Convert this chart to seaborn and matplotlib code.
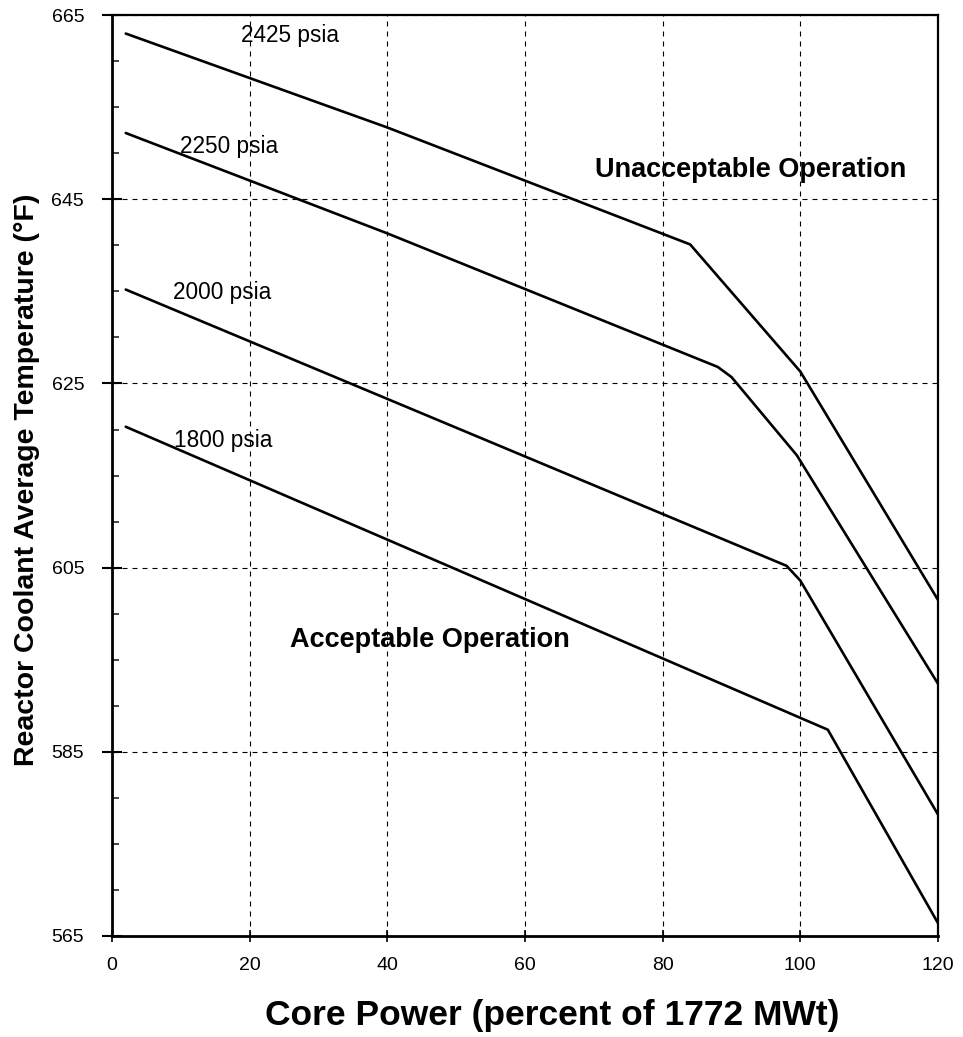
import numpy as np
import pandas as pd
import matplotlib
matplotlib.use("Agg")
import matplotlib.pyplot as plt
import seaborn as sns
from matplotlib.ticker import MultipleLocator

# Core power (%) and average coolant temperature (F) for each pressure curve
power_2425 = [2, 40, 84, 100, 120]
temp_2425 = [663.0, 652.8, 640.1, 626.3, 601.5]

power_2250 = [2, 40, 88, 90, 99.5, 120]
temp_2250 = [652.2, 641.3, 626.8, 625.7, 617.2, 592.4]

power_2000 = [2, 98, 100, 120]
temp_2000 = [635.2, 605.2, 603.6, 578.2]

power_1800 = [2, 104, 120]
temp_1800 = [620.3, 587.4, 566.4]

curve_names = ["2425 psia", "2250 psia", "2000 psia", "1800 psia"]
x_ticks = [0, 20, 40, 60, 80, 100, 120]
y_ticks = [565, 585, 605, 625, 645, 665]


def build_frame():
    rows = []
    for name, xs, ys in zip(curve_names,
                            [power_2425, power_2250, power_2000, power_1800],
                            [temp_2425, temp_2250, temp_2000, temp_1800]):
        for x, y in zip(xs, ys):
            rows.append({"power": x, "temp": y, "curve": name})
    return pd.DataFrame(rows)


def main():
    sns.set_theme(style="white")
    plt.rcParams["font.family"] = ["Liberation Sans", "DejaVu Sans"]
    plt.rcParams["text.color"] = "black"
    plt.rcParams["axes.labelcolor"] = "black"

    df = build_frame()

    fig = plt.figure(figsize=(9.63, 10.37), dpi=100)
    ax = fig.add_axes([0.1163, 0.0974, 0.8577, 0.888])

    sns.lineplot(data=df, x="power", y="temp", hue="curve", units="curve",
                 estimator=None, sort=False, palette=["black"] * 4,
                 linewidth=1.9, legend=False, ax=ax)

    ax.set_xlim(0, 120)
    ax.set_ylim(565, 665)
    ax.set_xticks(x_ticks)
    ax.set_yticks(y_ticks)
    ax.yaxis.set_minor_locator(MultipleLocator(5))

    ax.grid(True, which="major", color="black", linestyle=(0, (4.5, 4.5)), linewidth=0.8)
    for side in ["left", "bottom", "right", "top"]:
        ax.spines[side].set_visible(True)
        ax.spines[side].set_color("black")
    ax.spines["left"].set_linewidth(2.0)
    ax.spines["bottom"].set_linewidth(2.0)
    ax.spines["right"].set_linewidth(1.6)
    ax.spines["top"].set_linewidth(1.6)

    ax.tick_params(axis="y", which="major", direction="inout", length=14, width=1.5,
                   labelsize=14, pad=13, left=True, colors="black")
    ax.tick_params(axis="y", which="minor", direction="in", length=5, width=1.2, left=True)
    ax.tick_params(axis="x", which="major", direction="inout", length=8, width=1.2,
                   labelsize=14, pad=11, bottom=True, colors="black")

    ax.set_xlabel("Core Power (percent of 1772 MWt)", fontsize=25.5, fontweight="bold")
    ax.set_ylabel("Reactor Coolant Average Temperature (\u00b0F)", fontsize=20.5, fontweight="bold")
    ax.xaxis.set_label_coords(0.533, -0.068)
    ax.yaxis.set_label_coords(-0.087, 0.495)

    # curve labels
    ax.text(18.75, 662.8, "2425 psia", fontsize=16.3, va="center", ha="left")
    ax.text(9.9, 650.7, "2250 psia", fontsize=16.3, va="center", ha="left")
    ax.text(8.9, 634.9, "2000 psia", fontsize=16.3, va="center", ha="left")
    ax.text(9.0, 618.8, "1800 psia", fontsize=16.3, va="center", ha="left")

    ax.text(70.2, 648.2, "Unacceptable Operation", fontsize=19.5, fontweight="bold",
            va="center", ha="left")
    ax.text(25.9, 597.1, "Acceptable Operation", fontsize=19.5, fontweight="bold",
            va="center", ha="left")

    fig.savefig("out.png", dpi=100, facecolor="white")


if __name__ == "__main__":
    main()
